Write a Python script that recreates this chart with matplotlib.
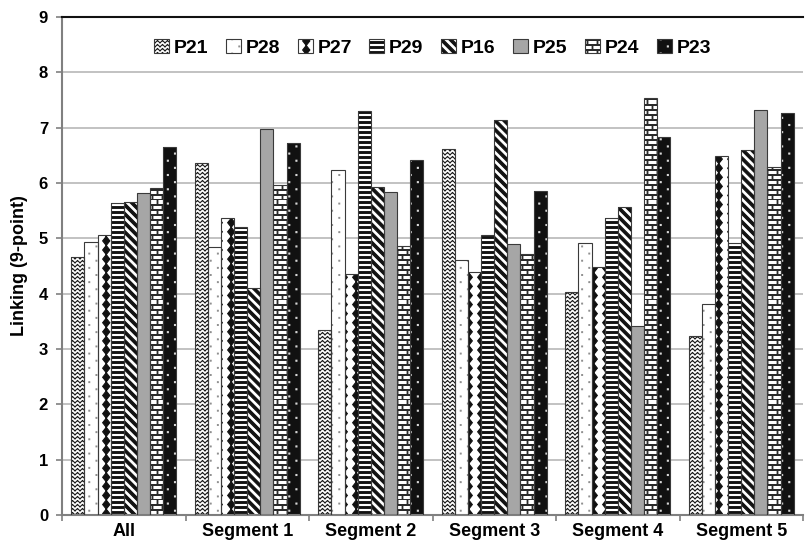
import warnings
import numpy as np
import matplotlib
matplotlib.use("Agg")
import matplotlib.pyplot as plt
import matplotlib.hatch as mhatch
from matplotlib.path import Path
from matplotlib.patches import Patch
from matplotlib.legend_handler import HandlerTuple

warnings.filterwarnings("ignore", category=matplotlib.MatplotlibDeprecationWarning)

# ---------------------------------------------------------------- data
categories = ["All", "Segment 1", "Segment 2", "Segment 3", "Segment 4", "Segment 5"]
series_names = ["P21", "P28", "P27", "P29", "P16", "P25", "P24", "P23"]

p21 = [4.66, 6.36, 3.34, 6.62, 4.03, 3.24]
p28 = [4.93, 4.85, 6.24, 4.61, 4.92, 3.82]
p27 = [5.06, 5.36, 4.35, 4.40, 4.48, 6.48]
p29 = [5.63, 5.21, 7.30, 5.06, 5.36, 4.91]
p16 = [5.66, 4.10, 5.93, 7.14, 5.57, 6.59]
p25 = [5.82, 6.98, 5.84, 4.90, 3.41, 7.32]
p24 = [5.91, 5.97, 4.86, 4.72, 7.54, 6.29]
p23 = [6.65, 6.72, 6.41, 5.86, 6.84, 7.26]

yticks = list(range(0, 10))


# ---------------------------------------------------------------- fill patterns
def _segments(segs):
    verts, codes = [], []
    for (x0, y0), (x1, y1) in segs:
        verts += [(x0, y0), (x1, y1)]
        codes += [Path.MOVETO, Path.LINETO]
    return verts, codes


def _polygons(polys):
    verts, codes = [], []
    for poly in polys:
        verts += list(poly) + [poly[0]]
        codes += [Path.MOVETO] + [Path.LINETO] * (len(poly) - 1) + [Path.CLOSEPOLY]
    return verts, codes


class _CustomHatch(mhatch.HatchPatternBase):
    key = None

    def __init__(self, hatch, density):
        if self.key in hatch:
            v, c = self.build()
            self.verts = np.asarray(v, float)
            self.codes = np.asarray(c, dtype=Path.code_type)
            self.num_vertices = len(self.verts)
        else:
            self.num_vertices = 0

    def set_vertices_and_codes(self, vertices, codes):
        vertices[:] = self.verts
        codes[:] = self.codes


class ZigzagHatch(_CustomHatch):
    key = "z"

    def build(self):
        rows, periods, amp = 25, 20, 0.022
        segs = []
        xs = np.linspace(0, 1, 2 * periods + 1)
        for i in range(rows):
            y0 = (i + 0.3) / rows
            ys = [y0 + (amp if j % 2 else 0.0) for j in range(len(xs))]
            for j in range(len(xs) - 1):
                segs.append(((xs[j], ys[j]), (xs[j + 1], ys[j + 1])))
        return _segments(segs)


def _dot_grid(ncol, nrow, r):
    polys = []
    for i in range(nrow):
        for k in range(ncol):
            cx = (k + 0.25 + 0.5 * (i % 2)) / ncol
            cy = (i + 0.5) / nrow
            polys.append([(cx - r, cy - r), (cx + r, cy - r),
                          (cx + r, cy + r), (cx - r, cy + r)])
    return polys


class SparseDotHatch(_CustomHatch):
    key = "d"

    def build(self):
        return _polygons(_dot_grid(7, 14, 0.004))


class DiamondHatch(_CustomHatch):
    key = "v"

    def build(self):
        ncol, nrow, hw = 8, 11, 0.036
        hh = 0.5 / nrow
        polys = []
        for k in range(ncol):
            for i in range(nrow):
                cx, cy = (k + 0.5) / ncol, (i + 0.5) / nrow
                polys.append([(cx, cy - hh), (cx + hw, cy), (cx, cy + hh), (cx - hw, cy)])
        return _polygons(polys)


class StripeHatch(_CustomHatch):
    key = "h"

    def build(self):
        n, t = 20, 0.017
        polys = []
        for i in range(n):
            y = (i + 0.5) / n
            polys.append([(0, y - t / 2), (1, y - t / 2), (1, y + t / 2), (0, y + t / 2)])
        return _polygons(polys)


class DiagonalHatch(_CustomHatch):
    key = "s"

    def build(self):
        n, w = 11, 0.036
        polys = []
        for k in range(0, 2 * n + 1):
            c = k / n
            polys.append([(c, 0), (c + w, 0), (c + w - 1, 1), (c - 1, 1)])
        return _polygons(polys)


class BrickHatch(_CustomHatch):
    key = "b"

    def build(self):
        rows, bricks, t = 20, 10, 0.007
        polys = []
        for i in range(rows):
            y = i / rows
            polys.append([(0, y - t / 2), (1, y - t / 2), (1, y + t / 2), (0, y + t / 2)])
            for k in range(bricks):
                x = (k + 0.5 * (i % 2) + 0.25) / bricks
                polys.append([(x - t / 2, y), (x + t / 2, y),
                              (x + t / 2, y + 1 / rows), (x - t / 2, y + 1 / rows)])
        return _polygons(polys)


class LightDotHatch(_CustomHatch):
    key = "w"

    def build(self):
        return _polygons(_dot_grid(7, 14, 0.005))


mhatch._hatch_types.extend([ZigzagHatch, SparseDotHatch, DiamondHatch, StripeHatch,
                            DiagonalHatch, BrickHatch, LightDotHatch])

plt.rcParams["hatch.linewidth"] = 0.8
plt.rcParams["font.family"] = ["Liberation Sans", "DejaVu Sans"]
plt.rcParams["font.weight"] = "bold"

# (face colour, pattern colour, pattern)
styles = [
    ("white", "#1a1a1a", "z"),
    ("white", "#8a8a8a", "d"),
    ("white", "#111111", "v"),
    ("white", "#111111", "h"),
    ("white", "#111111", "s"),
    ("#a6a6a6", "#a6a6a6", None),
    ("white", "#2a2a2a", "b"),
    ("#111111", "#d8d8d8", "w"),
]
values = [p21, p28, p27, p29, p16, p25, p24, p23]

# ---------------------------------------------------------------- figure
fig = plt.figure(figsize=(8.05, 5.43), dpi=100)
ax = fig.add_axes([62 / 805, 1 - 515 / 543, 741 / 805, 498 / 543])

x = np.arange(len(categories))
n = len(series_names)
bw = 0.85 / n
outline = "#3a3a3a"
handles = []
for s, (name, vals, (fc, hc, hp)) in enumerate(zip(series_names, values, styles)):
    pos = x - 0.425 + bw * (s + 0.5)
    ax.bar(pos, vals, bw, color=fc, edgecolor=hc, linewidth=0, hatch=hp, zorder=2)
    ax.bar(pos, vals, bw, fill=False, edgecolor=outline, linewidth=0.8, zorder=3)
    h1 = Patch(facecolor=fc, edgecolor=hc, linewidth=0, hatch=hp)
    h2 = Patch(fill=False, edgecolor=outline, linewidth=0.8)
    handles.append((h1, h2))

ax.set_xlim(-0.5, len(categories) - 0.5)
ax.set_ylim(0, 9)
ax.set_yticks(yticks)
ax.set_yticklabels([str(t) for t in yticks], fontsize=12, fontweight="bold")
ax.set_xticks(x)
ax.set_xticklabels(categories, fontsize=13, fontweight="bold")
ax.set_xticks(np.arange(-0.5, len(categories)), minor=True)
ax.tick_params(axis="x", which="major", length=0, pad=6)
ax.tick_params(axis="x", which="minor", length=4, width=1.2, color="#808080")
ax.tick_params(axis="y", length=4, width=1.2, color="#808080", pad=6)

ax.grid(axis="y", color="#b8b8b8", linewidth=1.2, zorder=0)
ax.set_axisbelow(True)

for side in ("left", "bottom"):
    ax.spines[side].set_color("#808080")
    ax.spines[side].set_linewidth(1.5)
ax.spines["top"].set_color("#111111")
ax.spines["top"].set_linewidth(1.5)
ax.spines["right"].set_visible(False)

ax.set_ylabel("Linking (9-point)", fontsize=13, fontweight="bold", labelpad=8)

ax.legend(handles, series_names, handler_map={tuple: HandlerTuple(ndivide=1, pad=0)},
          ncol=n, loc="center", bbox_to_anchor=(0.5, 0.938), frameon=False,
          prop={"size": 14, "weight": "bold"}, handlelength=0.77, handleheight=0.77,
          handletextpad=0.25, columnspacing=0.9)

fig.savefig("out.png", dpi=100)
